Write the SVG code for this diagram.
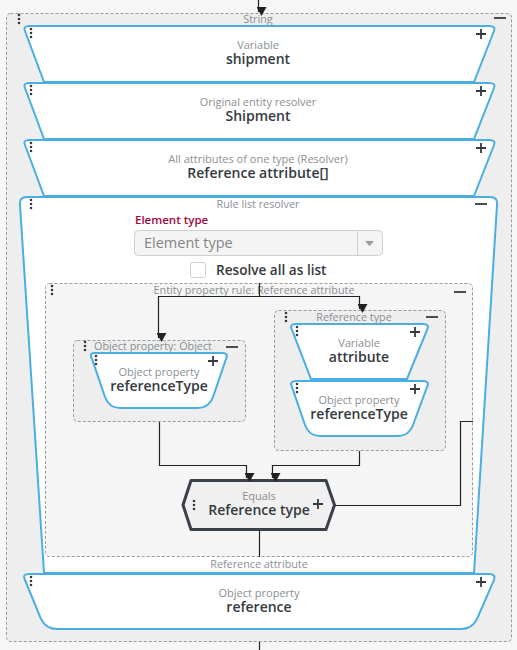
<svg xmlns="http://www.w3.org/2000/svg" width="517" height="650" viewBox="0 0 517 650">
<defs>
<style>
.bg{fill:#f6f6f6}
.grp{fill:#eeeeee;stroke:#9a9a9a;stroke-width:1;stroke-dasharray:3 2}
.grp2{fill:#f5f5f5;stroke:#9a9a9a;stroke-width:1;stroke-dasharray:3 2}
.node{fill:#ffffff;stroke:#4aaee3;stroke-width:2}
.hex{fill:#f0f0f0;stroke:#3a4047;stroke-width:3;stroke-linejoin:round}
.t{font-family:"Open Sans","Liberation Sans",sans-serif;text-anchor:middle}
.sub{font-size:11px;fill:#8a8f94}
.main{font-size:14px;font-weight:600;fill:#343a40}
.gt{font-size:10.8px;fill:#8a8f94}
.ic{stroke:#343a40;stroke-width:1.8;fill:none}
.dot{fill:#343a40}
.con{fill:none;stroke:#222;stroke-width:1.2}
</style>
<marker id="ah" markerWidth="10" markerHeight="10" refX="5" refY="8" orient="auto" markerUnits="userSpaceOnUse" viewBox="0 0 10 10">
<path d="M0,0 L10,0 L5,9 Z" fill="#222" transform="rotate(-90 5 5)"/>
</marker>
<g id="dots"><circle cx="0" cy="0" r="1.3"/><circle cx="0" cy="4" r="1.3"/><circle cx="0" cy="8" r="1.3"/></g>
<path id="plus" d="M-5,0 H5 M0,-5 V5"/>
<path id="minus" d="M-6,0 H6"/>
</defs>
<rect class="bg" x="0" y="0" width="517" height="650"/>

<g id="string">
<rect class="grp" x="6.5" y="13.5" width="505" height="628" rx="4"/>
<text class="t gt" x="258" y="23">String</text>
<use href="#minus" class="ic" x="500" y="18"/>
<use href="#dots" class="dot" x="19" y="15"/>
</g>

<g id="variable-shipment">
<path class="node" d="M29,26 H489 Q496,26 494,31 L474,82 H44 L25,31 Q23,26 29,26 Z"/>
<use href="#dots" class="dot" x="31" y="29"/>
<use href="#plus" class="ic" x="481" y="34"/>
<text class="t sub" x="258" y="49">Variable</text>
<text class="t main" x="258" y="64">shipment</text>
</g>

<g id="original-entity-resolver">
<path class="node" d="M29,83 H489 Q496,83 494,88 L474,139 H44 L25,88 Q23,83 29,83 Z"/>
<use href="#dots" class="dot" x="31" y="86"/>
<use href="#plus" class="ic" x="481" y="91"/>
<text class="t sub" x="258" y="106">Original entity resolver</text>
<text class="t main" x="258" y="121">Shipment</text>
</g>

<g id="all-attributes">
<path class="node" d="M29,140 H489 Q496,140 494,145 L474,196 H44 L25,145 Q23,140 29,140 Z"/>
<use href="#dots" class="dot" x="31" y="143"/>
<use href="#plus" class="ic" x="481" y="148"/>
<text class="t sub" x="258" y="163">All attributes of one type (Resolver)</text>
<text class="t main" x="258" y="178">Reference attribute[]</text>
</g>

<g id="rule-list-resolver">
<path class="node" d="M27,197 H490 Q498,197 497,205 L474,573 H44 L20,205 Q19,197 27,197 Z"/>
<use href="#dots" class="dot" x="31" y="200"/>
<use href="#minus" class="ic" x="481" y="204"/>
<text class="t gt" x="258" y="208">Rule list resolver</text>
<text x="135" y="224" font-family="'Open Sans','Liberation Sans',sans-serif" font-size="11.5px" font-weight="600" fill="#a0063c">Element type</text>
<rect x="134.5" y="230.5" width="248" height="25" rx="4" fill="#f4f4f4" stroke="#cfcfcf"/>
<line x1="357.5" y1="231" x2="357.5" y2="255" stroke="#cfcfcf"/>
<path d="M365,241 H374 L369.5,246 Z" fill="#9a9a9a"/>
<text x="144" y="248" font-family="'Open Sans','Liberation Sans',sans-serif" font-size="14.5px" fill="#858585">Element type</text>
<rect x="190.5" y="262.5" width="15" height="15" rx="2" fill="#ffffff" stroke="#cfcfcf"/>
<text x="216" y="275" font-family="'Open Sans','Liberation Sans',sans-serif" font-size="13.6px" font-weight="600" fill="#343a40">Resolve all as list</text>
<text class="t gt" x="259" y="568">Reference attribute</text>
</g>

<g id="entity-property-rule">
<rect class="grp2" x="45.5" y="283.5" width="427" height="273" rx="4"/>
<use href="#dots" class="dot" x="52" y="286"/>
<use href="#minus" class="ic" x="460" y="292"/>
<text class="t gt" x="254" y="294">Entity property rule: Reference attribute</text>
</g>

<g id="object-property-object">
<rect class="grp" x="73.5" y="340.5" width="172" height="81" rx="4"/>
<use href="#dots" class="dot" x="85" y="342"/>
<use href="#minus" class="ic" x="232" y="347"/>
<text class="t gt" x="153" y="350">Object property: Object</text>
</g>

<g id="object-property-referenceType-1">
<path class="node" d="M94,353 H222 Q229,353 226,359 L213,397 Q209,408 198,408 H120 Q109,408 105,397 L92,359 Q89,353 94,353 Z"/>
<use href="#dots" class="dot" x="96" y="356"/>
<use href="#plus" class="ic" x="213" y="361"/>
<text class="t sub" x="159" y="376">Object property</text>
<text class="t main" x="159" y="391">referenceType</text>
</g>

<g id="reference-type">
<rect class="grp" x="274.5" y="310.5" width="171" height="140" rx="4"/>
<use href="#dots" class="dot" x="286" y="313"/>
<use href="#minus" class="ic" x="432" y="317"/>
<text class="t gt" x="354" y="321">Reference type</text>
</g>

<g id="variable-attribute">
<path class="node" d="M296,324 H423 Q430,324 427,330 L407,379 H311 L292,330 Q289,324 296,324 Z"/>
<use href="#dots" class="dot" x="297" y="327"/>
<use href="#plus" class="ic" x="415" y="332"/>
<text class="t sub" x="359" y="347">Variable</text>
<text class="t main" x="359" y="362">attribute</text>
</g>

<g id="object-property-referenceType-2">
<path class="node" d="M296,381 H423 Q430,381 427,387 L413,425 Q409,436 398,436 H320 Q309,436 305,425 L292,387 Q289,381 296,381 Z"/>
<use href="#dots" class="dot" x="297" y="384"/>
<use href="#plus" class="ic" x="415" y="389"/>
<text class="t sub" x="359" y="404">Object property</text>
<text class="t main" x="359" y="419">referenceType</text>
</g>

<g id="equals">
<path class="hex" d="M191,480.5 H326 L334.5,505 L326,529.5 H191 L183,505 Z"/>
<use href="#dots" class="dot" x="194" y="501"/>
<use href="#plus" class="ic" x="318" y="504"/>
<text class="t sub" x="259" y="500">Equals</text>
<text class="t main" x="259" y="515">Reference type</text>
</g>

<g id="object-property-reference">
<path class="node" d="M29,574 H489 Q496,574 494,580 L477,619 Q472,629 461,629 H57 Q46,629 41,619 L25,580 Q22,574 29,574 Z"/>
<use href="#dots" class="dot" x="31" y="577"/>
<use href="#plus" class="ic" x="481" y="582"/>
<text class="t sub" x="259" y="597">Object property</text>
<text class="t main" x="259" y="612">reference</text>
</g>

<g id="connectors">
<line class="con" x1="258.5" y1="0" x2="258.5" y2="12" marker-end="url(#ah)"/>
<polyline class="con" points="259.5,283 259.5,296.5 158.5,296.5 158.5,338" marker-end="url(#ah)"/>
<polyline class="con" points="259.5,296.5 359.5,296.5 359.5,309" marker-end="url(#ah)"/>
<polyline class="con" points="159.5,422 159.5,465.5 246.5,465.5 246.5,478" marker-end="url(#ah)"/>
<polyline class="con" points="359.5,451 359.5,465.5 272.5,465.5 272.5,478" marker-end="url(#ah)"/>
<polyline class="con" points="473,421.5 460.5,421.5 460.5,505.5 335,505.5"/>
<line class="con" x1="259.5" y1="531" x2="259.5" y2="557"/>
<line class="con" x1="259.5" y1="642" x2="259.5" y2="650"/>
</g>
</svg>
